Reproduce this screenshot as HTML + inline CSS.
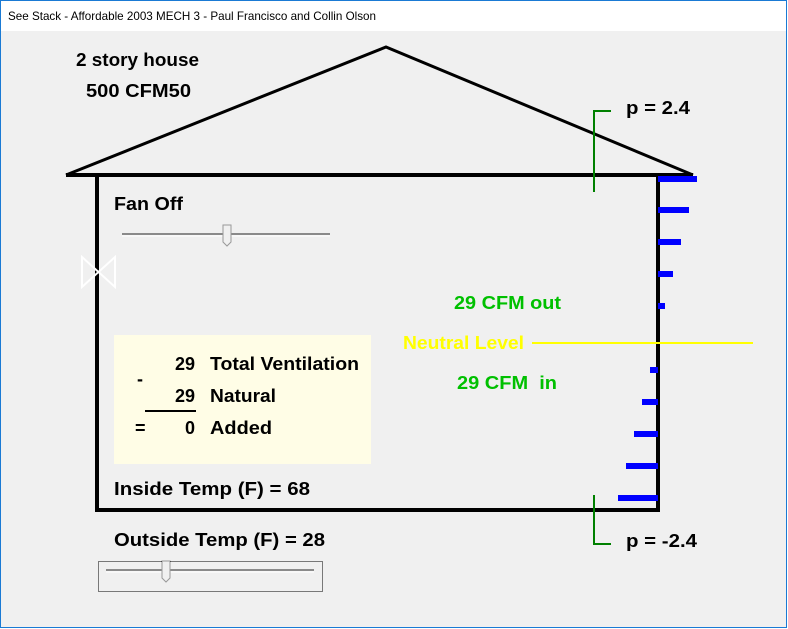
<!DOCTYPE html>
<html><head><style>
html,body{margin:0;padding:0;background:#fff;}
svg{display:block;}
text{font-family:"Liberation Sans",Arial,sans-serif;font-weight:bold;}
</style></head><body>
<svg width="788" height="629" viewBox="0 0 788 629" xmlns="http://www.w3.org/2000/svg">
<rect x="0" y="0" width="788" height="629" fill="#fff"/>
<rect x="1" y="31" width="785" height="597" fill="#f0f0f0"/>
<rect x="0.5" y="0.5" width="786" height="627" fill="none" stroke="#1a7ad4" stroke-width="1"/>
<text x="8" y="20" font-size="12" style="font-weight:normal" fill="#000" textLength="368" lengthAdjust="spacingAndGlyphs">See Stack - Affordable 2003 MECH 3 - Paul Francisco and Collin Olson</text>

<polyline points="66,175 386,47 693,175" fill="none" stroke="#000" stroke-width="3"/>
<line x1="66" y1="175" x2="693" y2="175" stroke="#000" stroke-width="4"/>
<polyline points="97,175 97,510 658,510 658,175" fill="none" stroke="#000" stroke-width="4"/>

<polygon points="82,257 115,287 115,257 82,287" fill="none" stroke="#fff" stroke-width="2"/>

<text x="76" y="66" font-size="18" fill="#000" textLength="123" lengthAdjust="spacingAndGlyphs">2 story house</text>
<text x="86" y="97" font-size="18" fill="#000" textLength="105" lengthAdjust="spacingAndGlyphs">500 CFM50</text>
<text x="114" y="210" font-size="18" fill="#000" textLength="69" lengthAdjust="spacingAndGlyphs">Fan Off</text>

<line x1="122" y1="234" x2="330" y2="234" stroke="#8a8a8a" stroke-width="2"/>
<line x1="122" y1="236" x2="330" y2="236" stroke="#fff" stroke-width="1"/>
<polygon points="223,225 231,225 231,242 227,246 223,242" fill="#f0f0f0" stroke="#999" stroke-width="1"/>

<rect x="114" y="335" width="257" height="129" fill="#fffde6"/>
<text x="195" y="370" font-size="18" fill="#000" text-anchor="end">29</text>
<text x="210" y="370" font-size="18" fill="#000" textLength="149" lengthAdjust="spacingAndGlyphs">Total Ventilation</text>
<text x="137" y="385" font-size="18" fill="#000">-</text>
<text x="195" y="402" font-size="18" fill="#000" text-anchor="end">29</text>
<text x="210" y="402" font-size="18" fill="#000" textLength="66" lengthAdjust="spacingAndGlyphs">Natural</text>
<line x1="145" y1="411" x2="196" y2="411" stroke="#000" stroke-width="2"/>
<text x="135" y="434" font-size="18" fill="#000">=</text>
<text x="195" y="434" font-size="18" fill="#000" text-anchor="end">0</text>
<text x="210" y="434" font-size="18" fill="#000" textLength="62" lengthAdjust="spacingAndGlyphs">Added</text>

<text x="114" y="495" font-size="18" fill="#000" textLength="196" lengthAdjust="spacingAndGlyphs">Inside Temp (F) = 68</text>
<text x="114" y="546" font-size="18" fill="#000" textLength="211" lengthAdjust="spacingAndGlyphs">Outside Temp (F) = 28</text>

<rect x="98.5" y="561.5" width="224" height="30" fill="none" stroke="#000" stroke-width="1" stroke-dasharray="1,1"/>
<line x1="106" y1="570" x2="314" y2="570" stroke="#8a8a8a" stroke-width="2"/>
<line x1="106" y1="572" x2="314" y2="572" stroke="#fff" stroke-width="1"/>
<polygon points="162,561 170,561 170,578 166,582 162,578" fill="#f0f0f0" stroke="#999" stroke-width="1"/>

<text x="403" y="349" font-size="18" fill="#ffff00" textLength="121" lengthAdjust="spacingAndGlyphs">Neutral Level</text>
<line x1="532" y1="343" x2="753" y2="343" stroke="#ffff00" stroke-width="2"/>
<text x="454" y="309" font-size="18" fill="#00c000" textLength="107" lengthAdjust="spacingAndGlyphs">29 CFM out</text>
<text x="457" y="389" font-size="18" fill="#00c000" textLength="100" lengthAdjust="spacingAndGlyphs" xml:space="preserve">29 CFM  in</text>

<g fill="#0000ff">
<rect x="658" y="176" width="39" height="6"/>
<rect x="658" y="207" width="31" height="6"/>
<rect x="658" y="239" width="23" height="6"/>
<rect x="658" y="271" width="15" height="6"/>
<rect x="658" y="303" width="7" height="6"/>
<rect x="650" y="367" width="8" height="6"/>
<rect x="642" y="399" width="16" height="6"/>
<rect x="634" y="431" width="24" height="6"/>
<rect x="626" y="463" width="32" height="6"/>
<rect x="618" y="495" width="40" height="6"/>
</g>

<polyline points="611,111 594,111 594,192" fill="none" stroke="#008000" stroke-width="2"/>
<polyline points="594,495 594,544 611,544" fill="none" stroke="#008000" stroke-width="2"/>
<text x="626" y="114" font-size="18" fill="#000" textLength="64" lengthAdjust="spacingAndGlyphs">p = 2.4</text>
<text x="626" y="547" font-size="18" fill="#000" textLength="71" lengthAdjust="spacingAndGlyphs">p = -2.4</text>
</svg>
</body></html>
